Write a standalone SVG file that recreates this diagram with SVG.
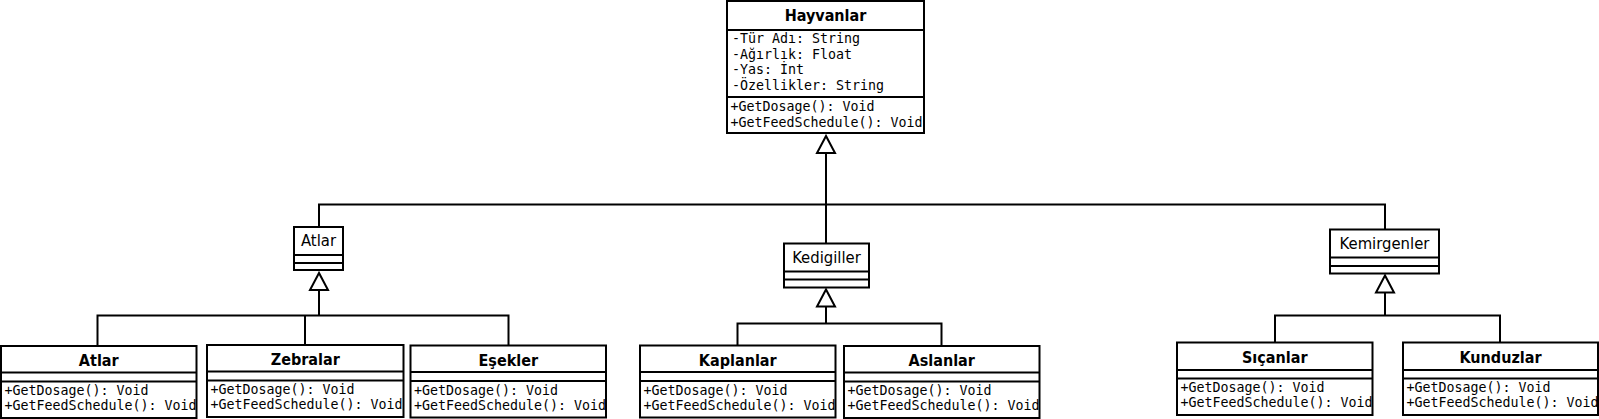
<svg xmlns="http://www.w3.org/2000/svg" width="1599" height="419" viewBox="0 0 1599 419">
<style>
.box{fill:#fff;stroke:#000;stroke-width:2}
.div{stroke:#000;stroke-width:2;fill:none}
.title{font-family:"DejaVu Sans Condensed","DejaVu Sans",sans-serif;font-stretch:condensed;font-weight:bold;font-size:16px;text-anchor:middle;fill:#000}
.lbl{font-family:"DejaVu Sans Condensed","DejaVu Sans",sans-serif;font-stretch:condensed;font-size:16.5px;text-anchor:middle;fill:#000}
.mono{font-family:"DejaVu Sans Mono",monospace;font-size:13.3px;fill:#000}
.edge{fill:none;stroke:#000;stroke-width:2}
.gen{marker-end:url(#tri)}
</style>
<defs>
<marker id="tri" markerUnits="userSpaceOnUse" markerWidth="20" markerHeight="20" refX="0" refY="0" orient="auto" overflow="visible">
<path d="M0,0 L-17,-9 L-17,9 Z" fill="#fff" stroke="#000" stroke-width="2"/>
</marker>
</defs>

<g id="connectors">
<path class="edge gen" d="M826,243.5 V136"/>
<path class="edge" d="M319,227 V204.5 H1385 V229.5"/>
<path class="edge gen" d="M319,315.5 V273"/>
<path class="edge" d="M97.5,346 V315.5 H508.5 V345.5"/>
<path class="edge" d="M305,315.5 V345"/>
<path class="edge gen" d="M826,323.5 V289.5"/>
<path class="edge" d="M737.5,345.5 V323.5 H941.5 V346"/>
<path class="edge gen" d="M1385,315.5 V275.5"/>
<path class="edge" d="M1275,342.5 V315.5 H1500 V342.5"/>
</g>

<g id="hayvanlar">
<rect class="box" x="727" y="1" width="197" height="132"/>
<line class="div" x1="727" y1="30" x2="924" y2="30"/>
<line class="div" x1="727" y1="97" x2="924" y2="97"/>
<text class="title" x="825.5" y="20.5">Hayvanlar</text>
<text class="mono" x="732" y="43">-Tür Adı: String</text>
<text class="mono" x="732" y="58.7">-Ağırlık: Float</text>
<text class="mono" x="732" y="74.3">-Yas: İnt</text>
<text class="mono" x="732" y="90">-Özellikler: String</text>
<text class="mono" x="730.5" y="111">+GetDosage(): Void</text>
<text class="mono" x="730.5" y="126.7">+GetFeedSchedule(): Void</text>
</g>

<g id="atlar-group">
<rect class="box" x="294" y="227" width="49" height="43"/>
<line class="div" x1="294" y1="255" x2="343" y2="255"/>
<line class="div" x1="294" y1="263" x2="343" y2="263"/>
<text class="lbl" x="318.5" y="245.7">Atlar</text>
</g>

<g id="kedigiller">
<rect class="box" x="784" y="243.5" width="85" height="44"/>
<line class="div" x1="784" y1="271.5" x2="869" y2="271.5"/>
<line class="div" x1="784" y1="279.5" x2="869" y2="279.5"/>
<text class="lbl" x="826.5" y="262.5">Kedigiller</text>
</g>

<g id="kemirgenler">
<rect class="box" x="1330" y="229.5" width="109" height="44"/>
<line class="div" x1="1330" y1="257.5" x2="1439" y2="257.5"/>
<line class="div" x1="1330" y1="266" x2="1439" y2="266"/>
<text class="lbl" x="1384.5" y="249">Kemirgenler</text>
</g>

<g id="atlar">
<rect class="box" x="1" y="346" width="195.5" height="72"/>
<line class="div" x1="1" y1="372.5" x2="196.5" y2="372.5"/>
<line class="div" x1="1" y1="381.5" x2="196.5" y2="381.5"/>
<text class="title" x="98.75" y="366">Atlar</text>
<text class="mono" x="4.5" y="395">+GetDosage(): Void</text>
<text class="mono" x="4.5" y="410">+GetFeedSchedule(): Void</text>
</g>

<g id="zebralar">
<rect class="box" x="207" y="345" width="196.5" height="72"/>
<line class="div" x1="207" y1="371.5" x2="403.5" y2="371.5"/>
<line class="div" x1="207" y1="380.5" x2="403.5" y2="380.5"/>
<text class="title" x="305.25" y="365">Zebralar</text>
<text class="mono" x="210.5" y="394">+GetDosage(): Void</text>
<text class="mono" x="210.5" y="409">+GetFeedSchedule(): Void</text>
</g>

<g id="esekler">
<rect class="box" x="410.5" y="345.5" width="195.5" height="72"/>
<line class="div" x1="410.5" y1="372" x2="606" y2="372"/>
<line class="div" x1="410.5" y1="381" x2="606" y2="381"/>
<text class="title" x="508.25" y="365.5">Eşekler</text>
<text class="mono" x="414" y="394.5">+GetDosage(): Void</text>
<text class="mono" x="414" y="409.5">+GetFeedSchedule(): Void</text>
</g>

<g id="kaplanlar">
<rect class="box" x="640" y="345.5" width="195.5" height="72"/>
<line class="div" x1="640" y1="372" x2="835.5" y2="372"/>
<line class="div" x1="640" y1="381" x2="835.5" y2="381"/>
<text class="title" x="737.75" y="365.5">Kaplanlar</text>
<text class="mono" x="643.5" y="394.5">+GetDosage(): Void</text>
<text class="mono" x="643.5" y="409.5">+GetFeedSchedule(): Void</text>
</g>

<g id="aslanlar">
<rect class="box" x="844" y="346" width="195.5" height="72"/>
<line class="div" x1="844" y1="372.5" x2="1039.5" y2="372.5"/>
<line class="div" x1="844" y1="381.5" x2="1039.5" y2="381.5"/>
<text class="title" x="941.75" y="366">Aslanlar</text>
<text class="mono" x="847.5" y="395">+GetDosage(): Void</text>
<text class="mono" x="847.5" y="410">+GetFeedSchedule(): Void</text>
</g>

<g id="sicanlar">
<rect class="box" x="1177" y="342.5" width="195.5" height="72.5"/>
<line class="div" x1="1177" y1="370" x2="1372.5" y2="370"/>
<line class="div" x1="1177" y1="378.5" x2="1372.5" y2="378.5"/>
<text class="title" x="1274.75" y="362.5">Sıçanlar</text>
<text class="mono" x="1180.5" y="391.5">+GetDosage(): Void</text>
<text class="mono" x="1180.5" y="406.5">+GetFeedSchedule(): Void</text>
</g>

<g id="kunduzlar">
<rect class="box" x="1403" y="342.5" width="195" height="72.5"/>
<line class="div" x1="1403" y1="370" x2="1598" y2="370"/>
<line class="div" x1="1403" y1="378.5" x2="1598" y2="378.5"/>
<text class="title" x="1500.5" y="362.5">Kunduzlar</text>
<text class="mono" x="1406.5" y="391.5">+GetDosage(): Void</text>
<text class="mono" x="1406.5" y="406.5">+GetFeedSchedule(): Void</text>
</g>
</svg>
